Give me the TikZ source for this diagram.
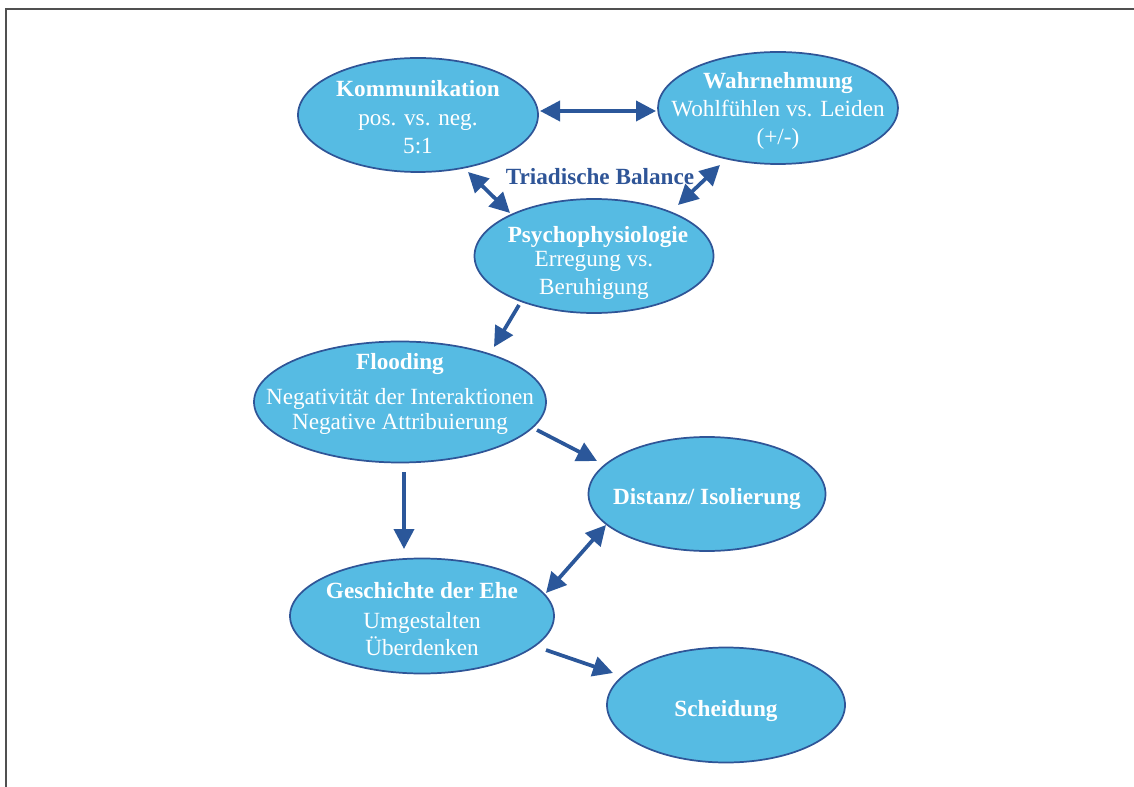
\documentclass[tikz,border=0pt]{standalone}
\usepackage{fontspec}
\setmainfont{Liberation Serif}
\usetikzlibrary{shapes.geometric,arrows.meta,calc}
\definecolor{fillb}{HTML}{56BBE3}
\definecolor{lineb}{HTML}{2F5597}
\definecolor{arrowb}{HTML}{2B579A}
\definecolor{framec}{HTML}{505050}
\begin{document}
\begin{tikzpicture}[x=0.75pt,y=-0.75pt,
  bub/.style n args={2}{ellipse, draw=lineb, line width=1.3pt, fill=fillb, inner sep=0pt,
     minimum width=#1*0.75pt, minimum height=#2*0.75pt},
  txt/.style={text=white, font=\fontsize{17.4}{20}\selectfont, inner sep=0pt, anchor=base},
  btxt/.style={txt, font=\fontsize{17.4}{20}\selectfont\bfseries},
  conn/.style={draw=arrowb, line width=2.8pt, -{Triangle[length=15pt,width=15pt]}},
  conn2/.style={draw=arrowb, line width=2.8pt, {Triangle[length=15pt,width=15pt]}-{Triangle[length=15pt,width=15pt]}}
]
\useasboundingbox (0,0) rectangle (1134,787);
\draw[framec, line width=1.6pt] (6,790) -- (6,9) -- (1137,9);

% ellipses
\node[bub={240}{114}] (kom) at (418,115) {};
\node[bub={240}{112}] (wah) at (778,108) {};
\node[bub={239}{114}] (psy) at (594,256) {};
\node[bub={292}{121}] (flo) at (400,402) {};
\node[bub={237}{114}] (dis) at (707,494) {};
\node[bub={264}{115}] (ges) at (422,616) {};
\node[bub={238}{115}] (sch) at (726,705) {};

% texts
\node[btxt] (kom1) at (418,97) {Kommunikation};
\node[txt]  (kom2) at (418,126) {pos. vs. neg.};
\node[txt]  (kom3) at (418,154) {5:1};

\node[btxt] (wah1) at (778,89) {Wahrnehmung};
\node[txt]  (wah2) at (778,117) {Wohlfühlen vs. Leiden};
\node[txt]  (wah3) at (778,145) {(+/-)};

\node[btxt] (psy1) at (598,243) {Psychophysiologie};
\node[txt]  (psy2) at (594,267) {Erregung vs.};
\node[txt]  (psy3) at (594,295) {Beruhigung};

\node[btxt] (flo1) at (400,370) {Flooding};
\node[txt]  (flo2) at (400,405) {Negativität der Interaktionen};
\node[txt]  (flo3) at (400,429) {Negative Attribuierung};

\node[btxt] (dis1) at (707,504) {Distanz/ Isolierung};

\node[btxt] (ges1) at (422,598) {Geschichte der Ehe};
\node[txt]  (ges2) at (422,628) {Umgestalten};
\node[txt]  (ges3) at (422,655) {Überdenken};

\node[btxt] (sch1) at (726,716) {Scheidung};

\node[btxt, text=lineb] (tri) at (600,185) {Triadische Balance};

% connectors
\draw[conn2] ($(kom)+(122,-4)$) -- ($(wah)+(-122,3)$);
\draw[conn2] ($(kom)+(50,57)$) -- ($(psy)+(-84,-43)$);
\draw[conn2] ($(wah)+(-58,57)$) -- ($(psy)+(84,-51)$);
\draw[conn]  ($(psy)+(-75,49)$) -- ($(flo)+(94,-55)$);
\draw[conn]  ($(flo)+(137,28)$) -- ($(dis)+(-110,-33)$);
\draw[conn]  ($(flo)+(4,70)$) -- ($(ges)+(-18,-67)$);
\draw[conn2] ($(dis)+(-101,31)$) -- ($(ges)+(124,-23)$);
\draw[conn]  ($(ges)+(124,34)$) -- ($(sch)+(-113,-32)$);
\end{tikzpicture}
\end{document}
